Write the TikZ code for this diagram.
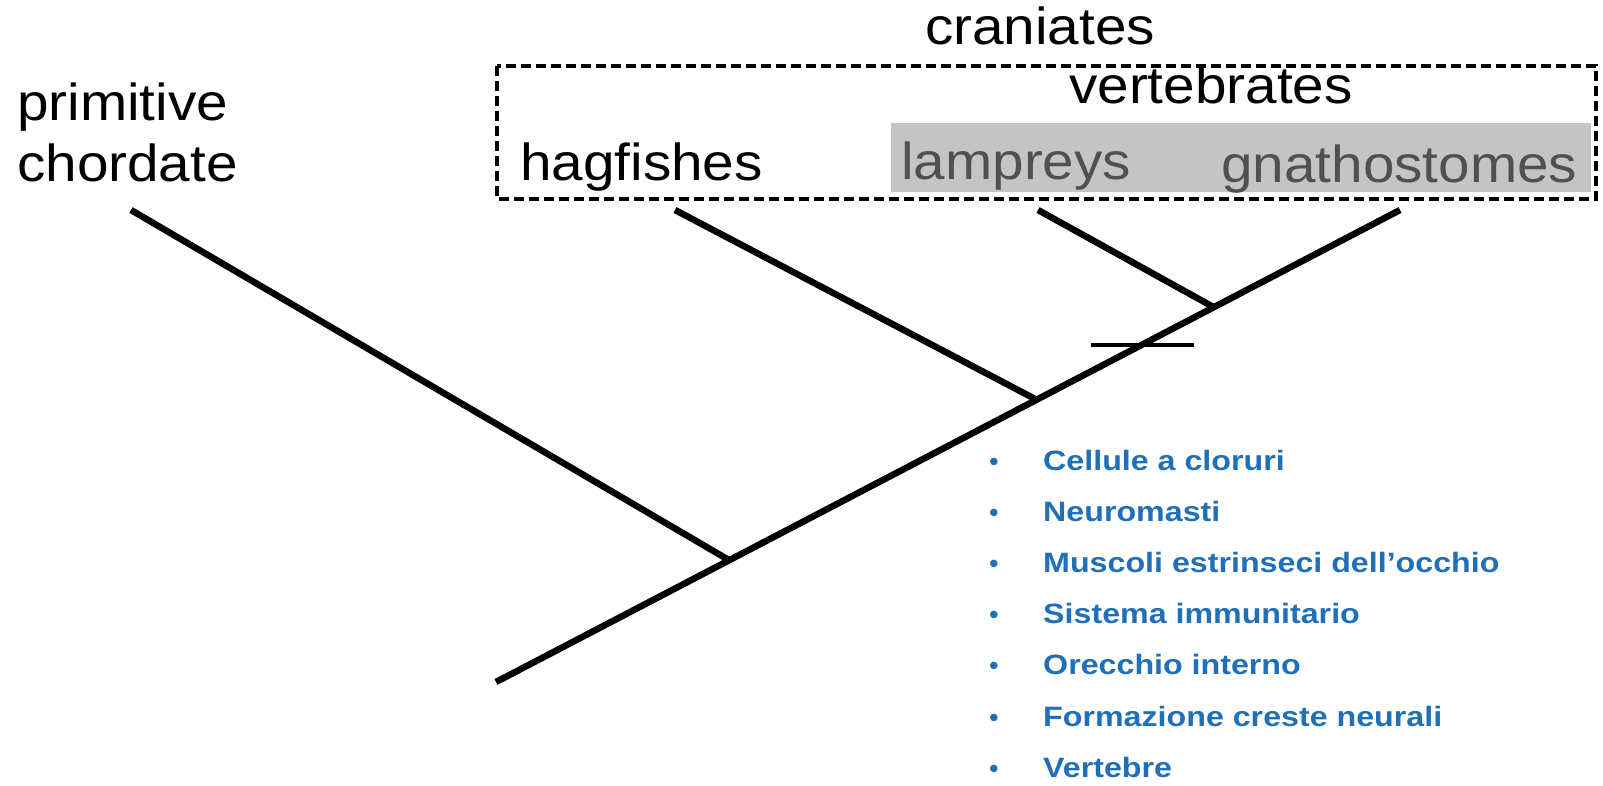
\documentclass[tikz,border=0pt]{standalone}
\usepackage{fontspec}
\usepackage{graphicx}
\setmainfont{Liberation Sans}
\usetikzlibrary{calc}
\definecolor{listblue}{RGB}{31,111,185}
\definecolor{boxgray}{RGB}{196,196,196}
\definecolor{textgray}{RGB}{80,80,80}
\newcommand{\wideA}[1]{\scalebox{1.09}[1]{#1}}
\newcommand{\wideB}[1]{\scalebox{1.15}[1]{#1}}
\begin{document}
\begin{tikzpicture}[x=1pt,y=-1pt,
  branch/.style={line width=6.5pt, line cap=butt},
  tickmark/.style={line width=4.5pt},
  dashbox/.style={line width=3.3pt, dash pattern=on 10pt off 5pt},
  big/.style={font=\fontsize{52}{60}\selectfont, inner sep=0pt},
  item/.style={font=\fontsize{28}{32}\selectfont\bfseries, text=listblue, anchor=base west, inner sep=0pt},
  bul/.style={font=\fontsize{26}{32}\selectfont\bfseries, text=listblue, anchor=base, inner sep=0pt}]
\useasboundingbox (0,0) rectangle (1603,785);
% boxes
\fill[boxgray] (891,123) rectangle (1591,192);
\draw[dashbox] (497,66) rectangle (1596,199);
% labels
\node[big, anchor=base west] (prim) at (17,120) {\wideA{primitive}};
\node[big, anchor=base west] (chord) at (17,181) {\wideA{chordate}};
\node[big, anchor=base] (cran) at (1040,44) {\wideA{craniates}};
\node[big, anchor=base] (vert) at (1211,103) {\wideA{vertebrates}};
\node[big, anchor=base west] (hag) at (520,180) {\wideA{hagfishes}};
\node[big, anchor=base west, text=textgray] (lamp) at (901,179) {\wideA{lampreys}};
\node[big, anchor=base west, text=textgray] (gnat) at (1221,182) {\wideA{gnathostomes}};
% tree coordinates
\coordinate (root) at (496,682);
\coordinate (tgna) at (1400,210);
\coordinate (n1) at ($(root)!0.258!(tgna)$);
\coordinate (n2) at ($(root)!0.598!(tgna)$);
\coordinate (n3) at ($(root)!0.794!(tgna)$);
\coordinate (tprim) at (131,210);
\coordinate (thag) at (675,210);
\coordinate (tlamp) at (1038,210);
\coordinate (tickL) at (1091,345);
\coordinate (tickR) at (1194,345);
% branches
\draw[branch] (root) -- (tgna);
\draw[branch] (tprim) -- (n1);
\draw[branch] (thag) -- (n2);
\draw[branch] (tlamp) -- (n3);
\draw[tickmark] (tickL) -- (tickR);
% list
\foreach \t [count=\i] in {Cellule a cloruri,Neuromasti,Muscoli estrinseci dell’occhio,Sistema immunitario,Orecchio interno,Formazione creste neurali,Vertebre}{
  \node[bul] (b\i) at (994,{460+10+(\i-1)*51.2}) {•};
  \node[item] (l\i) at (1043,{460+10+(\i-1)*51.2}) {\wideB{\t}};
}
\end{tikzpicture}
\end{document}
